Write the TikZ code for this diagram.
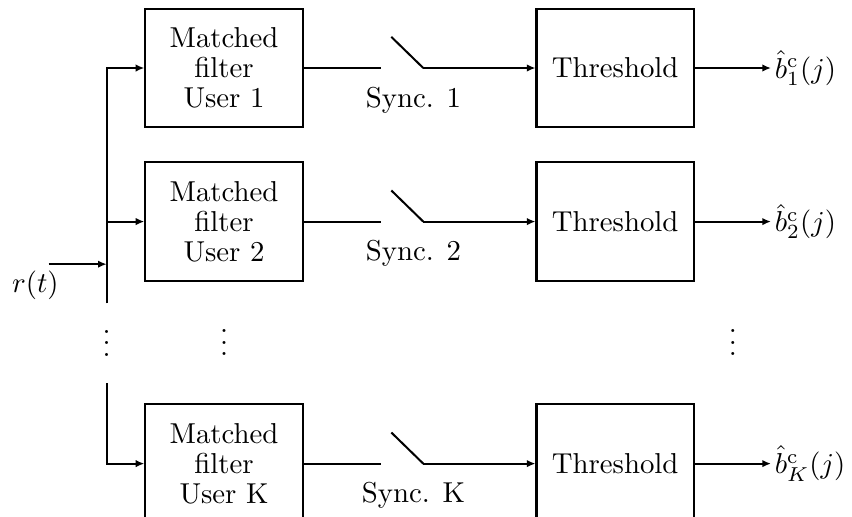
\documentclass[tikz,border=0pt]{standalone}
\usepackage{amsmath}
\usetikzlibrary{arrows.meta, positioning, calc}

\begin{document}
\begin{tikzpicture}[
    x=0.0122cm, y=-0.0122cm,
    line width=0.7pt,
    block/.style={rectangle, draw=black, minimum width=1.92cm, minimum height=1.45cm, align=center, inner sep=2pt, font=\fontsize{10}{10.5}\selectfont},
    sig/.style={-{Latex[length=3pt,width=2.6pt]}},
    synclabel/.style={inner sep=1pt},
    outlabel/.style={inner sep=1pt},
    dotsnode/.style={inner sep=0pt, yshift=3pt}
]
    \useasboundingbox (0,0) rectangle (852,516);
    % matched filters
    \node[block] (mf1) at (224,68) {Matched\\filter\\User 1};
    \node[block, below=0.40cm of mf1] (mf2) {Matched\\filter\\User 2};
    \node[block, below=1.48cm of mf2] (mfK) {Matched\\filter\\User K};
    % threshold devices
    \node[block, right=2.83cm of mf1] (th1) {Threshold};
    \node[block, right=2.83cm of mf2] (th2) {Threshold};
    \node[block, right=2.83cm of mfK] (thK) {Threshold};
    % decisions
    \node[outlabel, right=0.93cm of th1] (b1) {$\hat{b}^{\mathrm{c}}_{1}(j)$};
    \node[outlabel, right=0.93cm of th2] (b2) {$\hat{b}^{\mathrm{c}}_{2}(j)$};
    \node[outlabel, right=0.93cm of thK] (bK) {$\hat{b}^{\mathrm{c}}_{K}(j)$};
    \draw[sig] (th1) -- (b1);
    \draw[sig] (th2) -- (b2);
    \draw[sig] (thK) -- (bK);

    % input bus
    \coordinate[left=0.46cm of mf1.west] (tap1);
    \coordinate[left=0.46cm of mf2.west] (tap2);
    \coordinate[left=0.46cm of mfK.west] (tapK);
    \coordinate[below=1.0cm of tap2] (busend);
    \coordinate[above=0.98cm of tapK] (busstart);
    \draw[sig] (busend) -- (tap1) -- (mf1);
    \draw[sig] (tap2) -- (mf2);
    \draw[sig] (busstart) -- (tapK) -- (mfK);
    \coordinate[below=0.52cm of tap2] (rjoin);
    \coordinate[left=0.71cm of rjoin] (rin);
    \draw[sig] (rin) -- (rjoin);
    \node (rlabel) at ($(rin)+(-0.16cm,-0.26cm)$) {$r(t)$};

    % sampling switches
    \coordinate[right=0.94cm of mf1.east] (sw1a);
    \coordinate[right=1.46cm of mf1.east] (sw1b);
    \coordinate (sw1c) at ($(sw1b)+(-0.39cm,0.38cm)$);
    \draw (mf1) -- (sw1a);
    \draw (sw1b) -- (sw1c);
    \draw[sig] (sw1b) -- (th1);
    \node[synclabel] (sy1) at ($(sw1b)+(-0.12cm,-0.39cm)$) {Sync. 1};

    \coordinate[right=0.94cm of mf2.east] (sw2a);
    \coordinate[right=1.46cm of mf2.east] (sw2b);
    \coordinate (sw2c) at ($(sw2b)+(-0.39cm,0.38cm)$);
    \draw (mf2) -- (sw2a);
    \draw (sw2b) -- (sw2c);
    \draw[sig] (sw2b) -- (th2);
    \node[synclabel] (sy2) at ($(sw2b)+(-0.12cm,-0.39cm)$) {Sync. 2};

    \coordinate[right=0.94cm of mfK.east] (swKa);
    \coordinate[right=1.46cm of mfK.east] (swKb);
    \coordinate (swKc) at ($(swKb)+(-0.39cm,0.38cm)$);
    \draw (mfK) -- (swKa);
    \draw (swKb) -- (swKc);
    \draw[sig] (swKb) -- (thK);
    \node[synclabel] (syK) at ($(swKb)+(-0.12cm,-0.39cm)$) {Sync. K};

    % omitted users
    \node[dotsnode] (vdbus) at ($(busend)!0.5!(busstart)$) {$\vdots$};
    \node[dotsnode] (vdmf) at ($(mf2.south)!0.5!(mfK.north)$) {$\vdots$};
    \node[dotsnode] (vdout) at ($(th2.east)!0.5!(bK.west)$) {$\vdots$};
\end{tikzpicture}
\end{document}
